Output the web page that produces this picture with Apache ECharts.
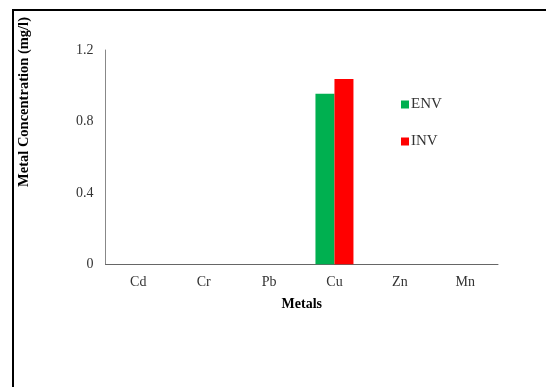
<!DOCTYPE html>
<html><head><meta charset="utf-8">
<script src="https://cdn.jsdelivr.net/npm/echarts@6/dist/echarts.min.js"></script>
<style>html,body{margin:0;padding:0;background:#fff}#c{width:546px;height:387px}</style>
</head><body><div id="c"></div>
<script>
const categories = ['Cd','Cr','Pb','Cu','Zn','Mn'];
const envValues = [0, 0, 0, 0.955, 0, 0];
const invValues = [0, 0, 0, 1.037, 0, 0];
const yTicks = [0, 0.4, 0.8, 1.2];

const chart = echarts.init(document.getElementById('c'));
const serif = '"Liberation Serif","Times New Roman",serif';
chart.setOption({
  animation: false,
  backgroundColor: '#fff',
  grid: {left: 105.5, right: 48, top: 50, bottom: 122.7, containLabel: false},
  legend: {
    orient: 'vertical', left: 396, top: 92, itemWidth: 8, itemHeight: 8, itemGap: 22,
    icon: 'rect',
    textStyle: {fontFamily: serif, fontSize: 15, color: '#333', padding: [0,0,0,-3]},
    data: ['ENV','INV']
  },
  xAxis: {
    type: 'category', data: categories,
    axisLine: {lineStyle: {color: '#666', width: 1}},
    axisTick: {show: false},
    axisLabel: {fontFamily: serif, fontSize: 14, color: '#333', margin: 11},
    name: 'Metals', nameLocation: 'middle', nameGap: 33,
    nameTextStyle: {fontFamily: serif, fontSize: 14, fontWeight: 'bold', color: '#000'}
  },
  yAxis: {
    type: 'value', min: yTicks[0], max: yTicks[yTicks.length-1], interval: 0.4,
    axisLine: {show: true, lineStyle: {color: '#888', width: 1}},
    axisTick: {show: false},
    splitLine: {show: false},
    axisLabel: {fontFamily: serif, fontSize: 14, color: '#333', margin: 12}
  },
  graphic: [
    {type: 'rect', shape: {x: 13, y: 10, width: 700, height: 500}, style: {fill: 'none', stroke: '#000', lineWidth: 2}, silent: true},
    {type: 'text', x: 24, y: 102, rotation: Math.PI/2,
     style: {text: 'Metal Concentration (mg/l)', fontFamily: serif, fontSize: 14.5, fontWeight: 'bold', fill: '#000', align: 'center', verticalAlign: 'middle'}}
  ],
  series: [
    {name: 'ENV', type: 'bar', data: envValues, barWidth: 19, barGap: '0%', itemStyle: {color: '#00B050'}},
    {name: 'INV', type: 'bar', data: invValues, barWidth: 19, barGap: '0%', itemStyle: {color: '#FF0000'}}
  ]
});
</script></body></html>
